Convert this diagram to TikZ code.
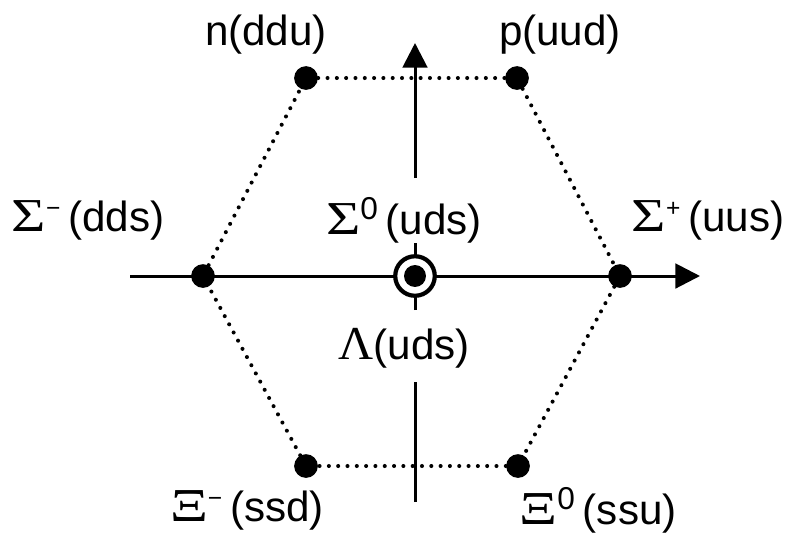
\documentclass[tikz,border=0pt]{standalone}
\usepackage{fontspec}
\setmainfont{Liberation Sans}
\newfontfamily\grk{Liberation Serif}
\usepackage{tikz}
\usetikzlibrary{arrows.meta,positioning}
\newcommand{\gk}[2][1.4]{\scalebox{#1}[1.12]{\grk #2}}
\newcommand{\hsup}[2][18]{\raisebox{8.5pt}{\fontsize{#1}{20}\selectfont #2}}

\begin{document}
\begin{tikzpicture}[x=0.02cm,y=-0.02cm,
    quark/.style={circle,fill=black,inner sep=0pt,minimum size=13.5pt},
    lab/.style={font=\fontsize{24}{28}\selectfont,inner sep=0pt},
    hexedge/.style={line width=2.3pt,line cap=round,dash pattern=on 0pt off 5.3pt},
    axis/.style={line width=1.7pt}]
  \useasboundingbox (0,0) rectangle (787,532);
  % axes
  \coordinate (xa) at (130,276);
  \coordinate (xb) at (700,276);
  \coordinate (ya) at (415,502);
  \coordinate (yb) at (415,382);
  \coordinate (yc) at (415,310);
  \coordinate (yd) at (415,243);
  \coordinate (ye) at (415,178);
  \coordinate (yf) at (415,43);
  \draw[axis,-{Triangle[length=14pt,width=14pt]}] (xa) -- (xb);
  \draw[axis] (ya) -- (yb);
  \draw[axis] (yc) -- (yd);
  \draw[axis,-{Triangle[length=14pt,width=14pt]}] (ye) -- (yf);
  % octet points
  \node[quark] (n) at (306,78) {};
  \node[quark] (p) at (517,78) {};
  \node[quark] (sm) at (203,276) {};
  \node[quark] (sp) at (620,276) {};
  \node[quark] (xm) at (306,466) {};
  \node[quark] (x0) at (518,466) {};
  \node[circle,draw,fill=white,line width=2.4pt,inner sep=0pt,minimum size=22.5pt] (sz) at (415,276) {};
  \node[circle,fill=black,inner sep=0pt,minimum size=12.5pt] (lz) at (sz) {};
  \draw[hexedge] (n) -- (p) -- (sp) -- (x0) -- (xm) -- (sm) -- (n);
  % labels
  \node[lab] (nl) at (266,35) {n(ddu)};
  \node[lab] (pl) at (560,35) {p(uud)};
  \node[lab] (sml) at (88,220) {\gk{Σ}\hsup[14]{−}\hspace{4.5pt}(dds)};
  \node[lab] (szl) at (404,220) {\gk{Σ}\hsup{0}\hspace{4.5pt}(uds)};
  \node[lab] (spl) at (708,220) {\gk{Σ}\hsup[14]{+}\hspace{4.5pt}(uus)};
  \node[lab] (lzl) at (404,348) {\gk[1.15]{Λ}(uds)};
  \node[lab] (xml) at (247,510) {\gk{Ξ}\hsup[14]{−}\hspace{4.5pt}(ssd)};
  \node[lab] (x0l) at (598,510) {\gk{Ξ}\hsup{0}\hspace{4.5pt}(ssu)};
\end{tikzpicture}
\end{document}
